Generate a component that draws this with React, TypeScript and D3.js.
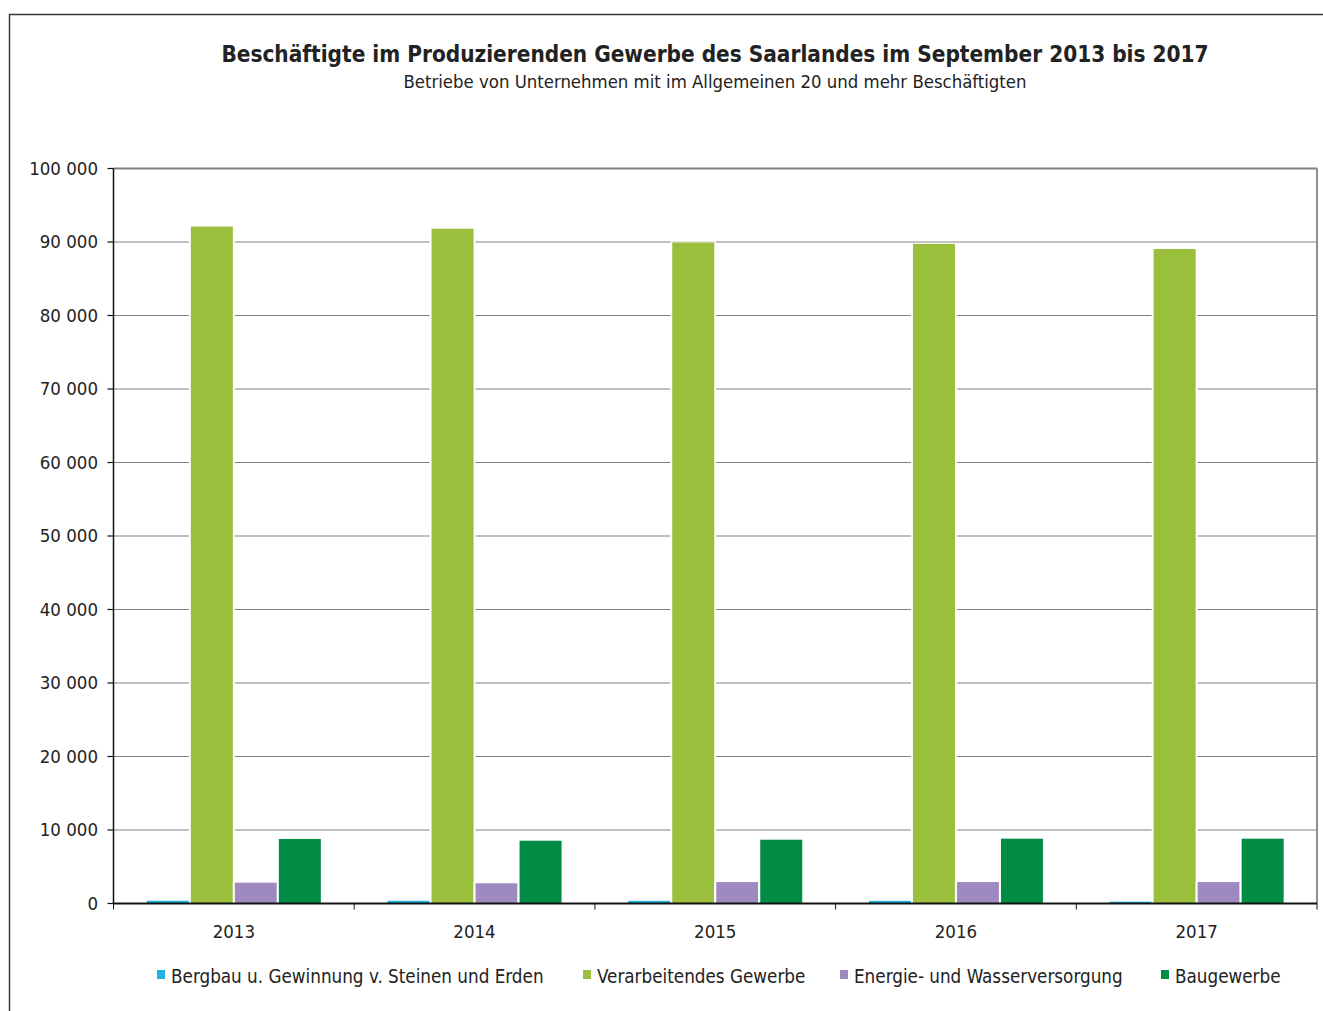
import React from "react";
import * as d3 from "d3";

const years = ["2013", "2014", "2015", "2016", "2017"];
const seriesNames = [
  "Bergbau u. Gewinnung v. Steinen und Erden",
  "Verarbeitendes Gewerbe",
  "Energie- und Wasserversorgung",
  "Baugewerbe",
];
const seriesColors = ["#1EB2E2", "#9ABF3C", "#9E8ABF", "#008C44"];
const bergbau = [380, 370, 360, 360, 250];
const verarbeitend = [92100, 91800, 89950, 89750, 89050];
const energie = [2830, 2750, 2920, 2920, 2920];
const bau = [8780, 8540, 8680, 8820, 8820];
const yTicks = [0, 10000, 20000, 30000, 40000, 50000, 60000, 70000, 80000, 90000, 100000];
const legendX = [157, 583, 840, 1161];

const W = 1323;
const H = 1011;
const M = { left: 113.5, right: 1317, top: 168.5, bottom: 903.5 };
const FONT = "'DejaVu Sans Condensed', 'DejaVu Sans', sans-serif";

const fmt = (v: number) => d3.format(",")(v).replace(/,/g, " ");

export default function App() {
  const x0 = d3.scaleBand().domain(years).range([M.left, M.right]).paddingInner(0).paddingOuter(0);
  const groupW = x0.bandwidth();
  const inner = 176;
  const x1 = d3
    .scaleBand()
    .domain(seriesNames)
    .range([(groupW - inner) / 2, (groupW + inner) / 2])
    .padding(0);
  const y = d3.scaleLinear().domain([0, 100000]).range([M.bottom, M.top]);
  const values = [bergbau, verarbeitend, energie, bau];
  const gap = 2;

  return (
    <svg
      width={W}
      height={H}
      style={{ position: "absolute", left: 0, top: 0, background: "#fff" }}
      fontFamily={FONT}
    >
      <rect x={9.5} y={14.5} width={W} height={H} fill="none" stroke="#3a3a3a" strokeWidth={1.5} />
      <text x={715} y={62} textAnchor="middle" fontSize={22.4} fontWeight="bold" fill="#222">
        Beschäftigte im Produzierenden Gewerbe des Saarlandes im September 2013 bis 2017
      </text>
      <text x={715} y={88} textAnchor="middle" fontSize={18.4} fill="#222">
        Betriebe von Unternehmen mit im Allgemeinen 20 und mehr Beschäftigten
      </text>

      {/* gridlines */}
      {yTicks.map((t) => (
        <line
          key={"g" + t}
          x1={M.left}
          x2={M.right}
          y1={y(t)}
          y2={y(t)}
          stroke="#808080"
          strokeWidth={t === 100000 ? 2 : 1.2}
        />
      ))}
      <line x1={M.right} x2={M.right} y1={M.top} y2={M.bottom} stroke="#909090" strokeWidth={2} />

      {/* bars (white gap around each bar) */}
      {years.map((yr, i) => (
        <g key={yr} transform={`translate(${x0(yr)},0)`}>
          {seriesNames.map((s, k) => (
            <g key={s}>
              <rect
                x={(x1(s) as number) - gap / 2}
                y={y(values[k][i]) - gap / 2}
                width={x1.bandwidth() + gap}
                height={M.bottom - y(values[k][i]) + gap / 2}
                fill="#fff"
              />
              <rect
                x={(x1(s) as number) + gap / 2}
                y={y(values[k][i])}
                width={x1.bandwidth() - gap}
                height={M.bottom - y(values[k][i])}
                fill={seriesColors[k]}
              />
            </g>
          ))}
        </g>
      ))}

      {/* axes */}
      <line x1={M.left} x2={M.left} y1={M.top} y2={M.bottom} stroke="#111" strokeWidth={1.5} />
      <line x1={M.left} x2={M.right} y1={M.bottom} y2={M.bottom} stroke="#111" strokeWidth={1.8} />
      {yTicks.map((t) => (
        <g key={"t" + t}>
          <line x1={M.left - 6} x2={M.left} y1={y(t)} y2={y(t)} stroke="#111" strokeWidth={1.2} />
          <text x={98} y={y(t)} dy="0.35em" textAnchor="end" fontSize={18.5} fill="#222">
            {fmt(t)}
          </text>
        </g>
      ))}
      {years.map((yr) => (
        <line
          key={"xt" + yr}
          x1={x0(yr) as number}
          x2={x0(yr) as number}
          y1={M.bottom}
          y2={M.bottom + 6}
          stroke="#111"
          strokeWidth={1}
        />
      ))}
      <line x1={M.right} x2={M.right} y1={M.bottom} y2={M.bottom + 6} stroke="#111" strokeWidth={1} />
      {years.map((yr) => (
        <text
          key={"xl" + yr}
          x={(x0(yr) as number) + groupW / 2}
          y={938}
          textAnchor="middle"
          fontSize={18.5}
          fill="#222"
        >
          {yr}
        </text>
      ))}

      {/* legend */}
      {seriesNames.map((s, k) => (
        <g key={"l" + s}>
          <rect x={legendX[k]} y={970} width={8} height={9} fill={seriesColors[k]} />
          <text x={legendX[k] + 14} y={983} fontSize={18.7} fill="#222">
            {s}
          </text>
        </g>
      ))}
    </svg>
  );
}
